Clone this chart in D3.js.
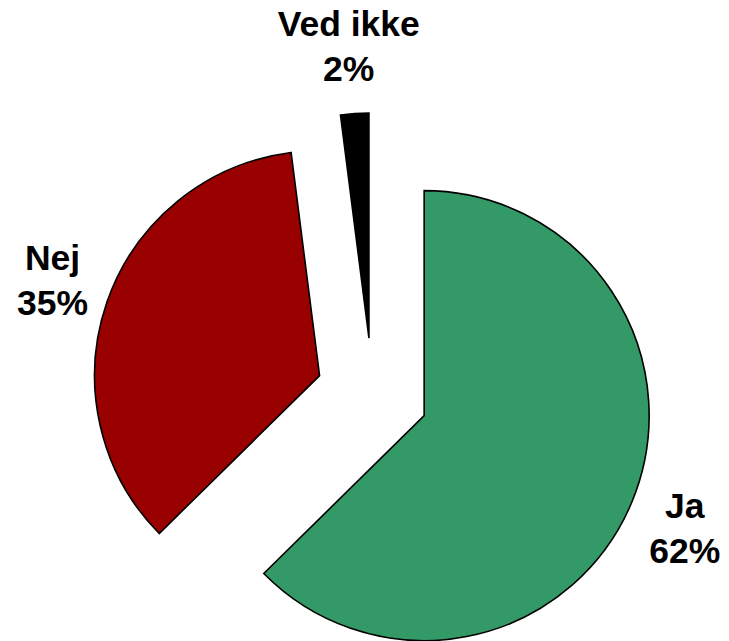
<!DOCTYPE html>
<html>
<head>
<meta charset="utf-8">
<title>Ja / Nej / Ved ikke</title>
<script src="https://cdn.jsdelivr.net/npm/d3@7"></script>
<style>
  html, body { margin: 0; padding: 0; background: #fff; }
  text { font-family: "Liberation Sans", Arial, sans-serif; font-weight: bold; }
</style>
</head>
<body>
<div id="chart"></div>

<script>
// chart data
var categories = ["Ja", "Nej", "Ved ikke"];
var values = [62, 35, 2];
var pctLabels = ["62%", "35%", "2%"];
var colors = ["#339966", "#990000", "#000000"];

var width = 729,
    height = 641,
    cx = 372.5,
    cy = 394,
    radius = 225,
    explode = 56,   // every slice is pulled out the same distance
    labelGap = 22,
    fontSize = 35.5,
    lineStep = 45;

var svg = d3.select("#chart").append("svg")
    .attr("width", width)
    .attr("height", height);

var pie = d3.pie().sort(null).value(function(d) { return d; });
var arcs = pie(values);

var arc = d3.arc().innerRadius(0).outerRadius(radius);

function mid(d) { return (d.startAngle + d.endAngle) / 2; }

var g = svg.append("g").attr("transform", "translate(" + cx + "," + cy + ")");

// slices, each moved out along its own middle angle
g.selectAll("path")
    .data(arcs)
    .enter()
    .append("path")
    .attr("d", arc)
    .attr("transform", function(d) {
        var a = mid(d);
        return "translate(" + (Math.sin(a) * explode) + "," + (-Math.cos(a) * explode) + ")";
    })
    .attr("fill", function(d, i) { return colors[i]; })
    .attr("stroke", "#000")
    .attr("stroke-width", 1.6)
    .attr("stroke-linejoin", "miter");

// labels: two lines, the box placed just outside the exploded slice
var labels = g.selectAll("text.lbl")
    .data(arcs)
    .enter()
    .append("text")
    .attr("class", "lbl")
    .attr("text-anchor", "middle")
    .style("font-size", fontSize + "px");

labels.append("tspan")
    .attr("x", 0)
    .attr("y", 0)
    .text(function(d, i) { return categories[i]; });
labels.append("tspan")
    .attr("x", 0)
    .attr("y", lineStep)
    .text(function(d, i) { return pctLabels[i]; });

labels.each(function(d) {
    var a = mid(d),
        box = this.getBBox(),
        hw = box.width / 2,
        hh = 45,
        rr = radius + explode + labelGap,
        px = Math.sin(a) * rr + Math.sin(a) * hw,
        py = -Math.cos(a) * rr - Math.cos(a) * hh;
    // py is the middle of the block (cap top of line 1 to baseline of line 2)
    d3.select(this).attr("transform", "translate(" + px + "," + (py - 10.5) + ")");
});
</script>
</body>
</html>
